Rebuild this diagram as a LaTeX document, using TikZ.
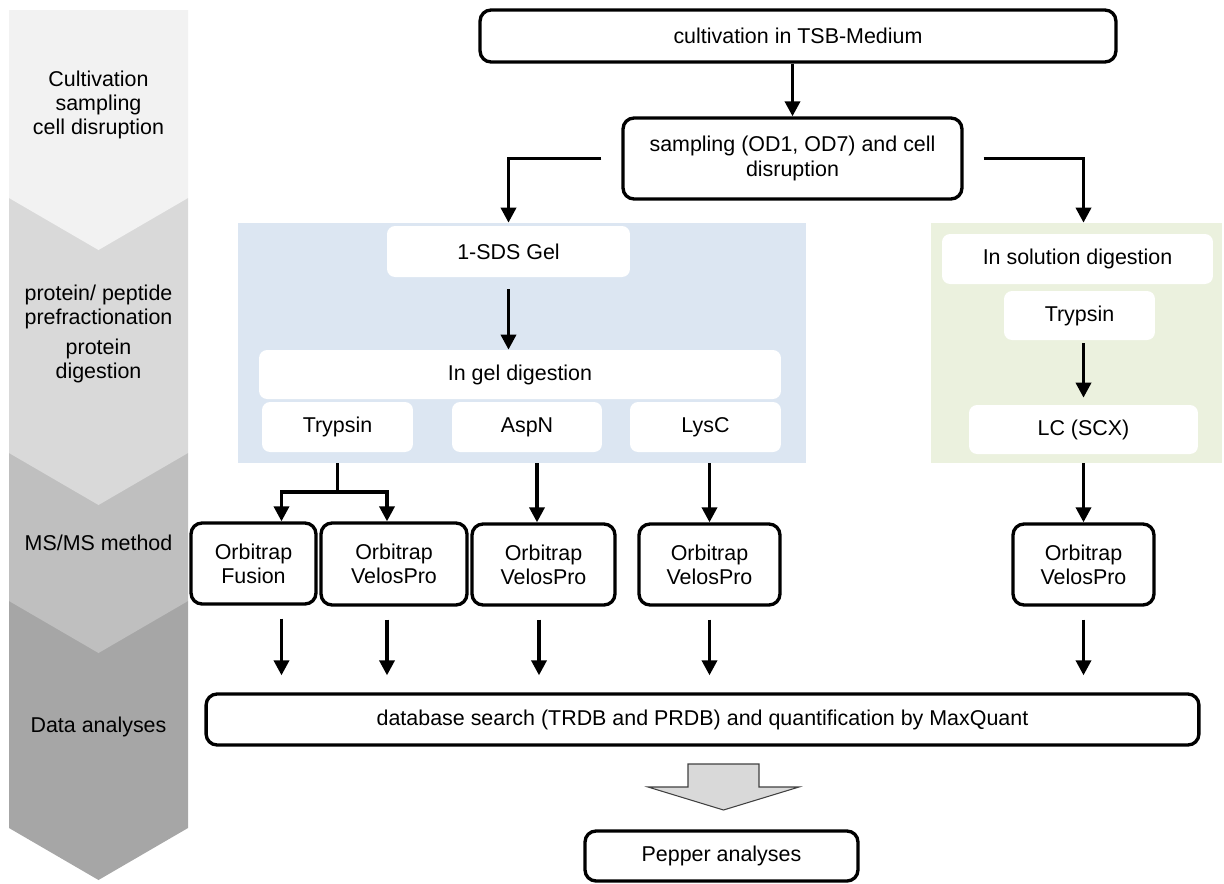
\documentclass[tikz,border=0pt]{standalone}
\usepackage{fontspec}
\setmainfont{Liberation Sans}
\usetikzlibrary{arrows.meta}

\definecolor{gelblue}{HTML}{DCE6F2}
\definecolor{solgreen}{HTML}{EBF1DE}
\definecolor{stagea}{HTML}{F2F2F2}
\definecolor{stageb}{HTML}{D9D9D9}
\definecolor{stagec}{HTML}{BFBFBF}
\definecolor{staged}{HTML}{A6A6A6}

\begin{document}
\begin{tikzpicture}[x=0.02cm, y=-0.02cm,
    every node/.style={font=\fontsize{12.2}{13.8}\selectfont, align=center, inner sep=0pt},
    >={Triangle[length=3mm, width=3mm]},
    blackbox/.style={draw, line width=1.9pt, rounded corners=2.2mm, fill=white},
    whitebox/.style={fill=white, rounded corners=1.6mm, minimum height=1cm},
    arr/.style={->, line width=2pt},
    dbarr/.style={arr, shorten <=0.26cm, shorten >=0.34cm}]
      \useasboundingbox (0,0) rectangle (1224,883);

      % stage column
      \foreach \t/\b/\c in {601/828/staged, 453/601/stagec, 198/453/stageb, 10/198/stagea}
        \fill[\c] (9,\t) -- (188,\t) -- (188,\b) -- (98.5,\b+52) -- (9,\b) -- cycle;
      \node (lcult) at (98.5,105) {Cultivation\\sampling\\cell disruption};
      \node (lprefrac) at (98.5,307) {protein/ peptide\\prefractionation};
      \node (ldigest) at (98.5,361) {protein\\digestion};
      \node (lms) at (98.5,543) {MS/MS method};
      \node (ldata) at (98.5,727) {Data analyses};

      \node[blackbox, minimum width=12.72cm, minimum height=1.04cm] (cult) at (798,36) {cultivation in TSB-Medium};
      \node[blackbox, minimum width=6.78cm, minimum height=1.62cm] (samp) at (792.5,158.5) {sampling (OD1, OD7) and cell\\disruption};

      % gel branch
      \node[fill=gelblue, minimum width=11.36cm, minimum height=4.8cm] (gelpanel) at (522,343) {};
      \node[whitebox, minimum width=4.86cm, minimum height=1.02cm] (sds) at (508.5,251.5) {1-SDS Gel};
      \node[whitebox, minimum width=10.44cm, minimum height=0.98cm] (ingel) at (520,374.5) {In gel digestion};
      \node[whitebox, minimum width=3.02cm] (tryp) at (337.5,427) {Trypsin};
      \node[whitebox, minimum width=3cm] (aspn) at (527,427) {AspN};
      \node[whitebox, minimum width=3.02cm] (lysc) at (705.5,427) {LysC};

      % solution branch
      \node[fill=solgreen, minimum width=5.82cm, minimum height=4.8cm] (solpanel) at (1076.5,343) {};
      \node[whitebox, minimum width=5.42cm] (insol) at (1077.5,259) {In solution digestion};
      \node[whitebox, minimum width=3.02cm, minimum height=0.98cm] (tryp2) at (1079.5,315.5) {Trypsin};
      \node[whitebox, minimum width=4.58cm, minimum height=0.98cm] (lc) at (1083.5,429.5) {LC (SCX)};

      \node[blackbox, minimum width=2.5cm, minimum height=1.62cm] (fusion) at (253.5,563.5) {Orbitrap\\Fusion};
      \node[blackbox, minimum width=2.92cm, minimum height=1.64cm] (velos1) at (394,564) {Orbitrap\\VelosPro};
      \node[blackbox, minimum width=2.86cm, minimum height=1.62cm] (velos2) at (543.5,564.5) {Orbitrap\\VelosPro};
      \node[blackbox, minimum width=2.82cm, minimum height=1.62cm] (velos3) at (709.5,564.5) {Orbitrap\\VelosPro};
      \node[blackbox, minimum width=2.82cm, minimum height=1.62cm] (velos4) at (1083.5,564.5) {Orbitrap\\VelosPro};

      \node[blackbox, minimum width=19.86cm, minimum height=1.02cm] (dbsearch) at (702.5,719.5) {database search (TRDB and PRDB) and quantification by MaxQuant};
      \node[blackbox, minimum width=5.46cm, minimum height=1cm] (pepper) at (721.5,856) {Pepper analyses};

      \draw[arr] (samp.north |- cult.south) -- (samp.north);
      \draw[arr, shorten <=0.4cm] (samp.west) -| (sds.north |- gelpanel.north);
      \draw[arr, shorten <=0.4cm] (samp.east) -| (lc.north |- solpanel.north);
      \draw[arr, shorten <=0.24cm] (sds.south) -- (sds.south |- ingel.north);
      \draw[arr, shorten <=0.06cm, shorten >=0.14cm] (lc.north |- tryp2.south) -- (lc.north);

      \coordinate (fork) at (tryp.south |- 0,492);
      \draw[line width=2pt] (tryp.south |- gelpanel.south) -- (fork);
      \draw[arr] (fork) -| ([xshift=0.56cm]fusion.north);
      \draw[arr] (fork) -| ([xshift=-0.14cm]velos1.north);
      \draw[arr] ([xshift=-0.13cm]velos2.north |- gelpanel.south) -- ([xshift=-0.13cm]velos2.north);
      \draw[arr] (velos3.north |- gelpanel.south) -- (velos3.north);
      \draw[arr] (velos4.north |- solpanel.south) -- (velos4.north);

      \foreach \n/\s in {fusion/0.56cm, velos1/-0.14cm, velos2/-0.09cm, velos3/0cm, velos4/0cm}
        \draw[dbarr] ([xshift=\s]\n.south) -- ([xshift=\s]\n.south |- dbsearch.north);

      \filldraw[fill=stageb, draw=black!75, line width=0.6pt] (688,764) -- (759,764) -- (759,787) -- (799,787)
        -- (723.5,810) -- (648,787) -- (688,787) -- cycle;
\end{tikzpicture}
\end{document}
